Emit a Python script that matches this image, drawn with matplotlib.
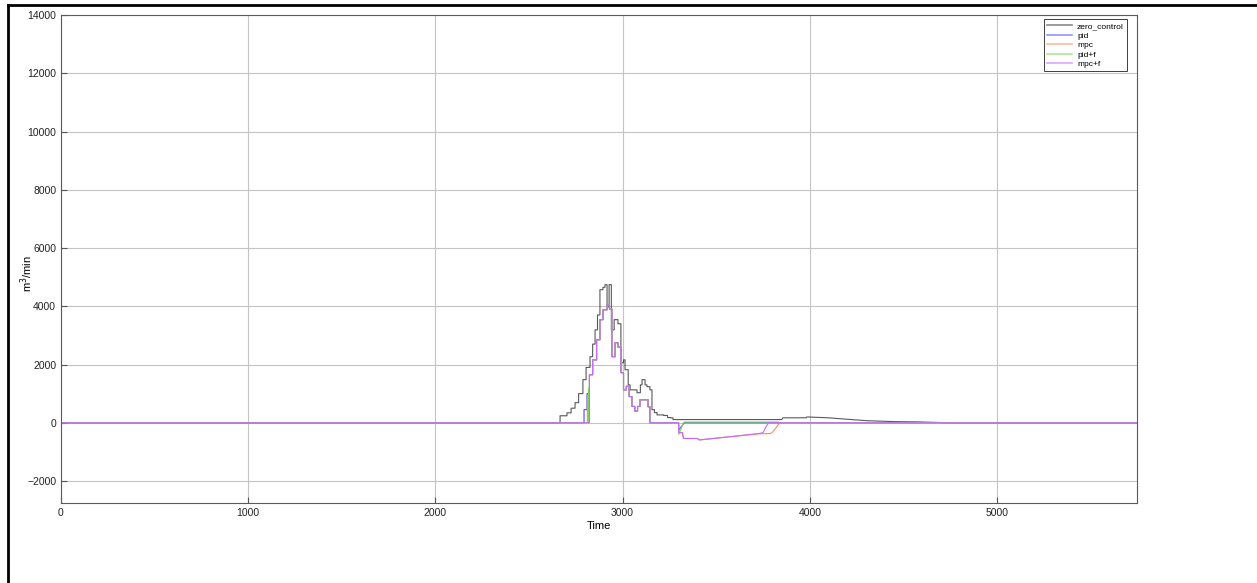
import matplotlib
matplotlib.use("Agg")
import matplotlib.pyplot as plt
from matplotlib.lines import Line2D

plt.rcParams['font.family'] = ['Liberation Sans', 'DejaVu Sans']

# ---- data ----
# uncontrolled flow: stepped rise/fall, then a slow tail
t_zero_steps = [0, 2666, 2703, 2725, 2746, 2765, 2788, 2805, 2826, 2840, 2853, 2866, 2879,
                2895, 2906, 2917, 2928, 2940, 2955, 2975, 2991, 3005, 3013, 3030, 3040,
                3077, 3095, 3104, 3120, 3130, 3146, 3157, 3170, 3184, 3220, 3240, 3253, 3269]
v_zero_steps = [0, 240, 340, 500, 690, 1000, 1480, 1900, 2270, 2700, 3190, 3700, 4570,
                4650, 4740, 3980, 4740, 3190, 3540, 3400, 2060, 2160, 1820, 1300, 1130,
                1030, 1300, 1480, 1300, 1240, 1130, 450, 350, 270, 250, 180, 170, 110]
t_zero_tail = [3850, 3857, 3980, 3985, 4100, 4200, 4306, 4450, 4573, 4749, 5748]
v_zero_tail = [110, 170, 170, 200, 170, 120, 70, 40, 30, 0, 0]

# shared stepped peak of the controlled runs
t_peak = [2823, 2840, 2861, 2879, 2895, 2917, 2930, 2943, 2960, 2975, 2991, 3005,
          3020, 3035, 3050, 3065, 3080, 3093, 3120, 3136, 3146]
v_peak = [1650, 2160, 2850, 3540, 3880, 4050, 3900, 2270, 2750, 2600, 1720, 1130,
          1250, 900, 560, 400, 560, 790, 790, 550, 0]

# run-specific stepped start
t_pid_start, v_pid_start = [0, 2794, 2810], [0, 450, 1000]
t_mpc_start, v_mpc_start = [0, 2812], [0, 900]
t_pf_start, v_pf_start = [0, 2818], [0, 1200]
t_mf_start, v_mf_start = [0, 2820], [0, 0]

# run-specific tails (piecewise linear)
t_pid_tail = [3299, 3300, 3330, 5748]
v_pid_tail = [0, -250, 0, 0]
t_mpc_tail = [3299, 3300, 3320, 3325, 3400, 3410, 3720, 3790, 3800, 3840, 5748]
v_mpc_tail = [0, -340, -340, -540, -540, -590, -380, -370, -330, 0, 0]
t_pf_tail = [3299, 3300, 3325, 3330, 3835, 3840, 5748]
v_pf_tail = [0, -400, 0, 25, 25, 0, 0]
t_mf_tail = [3299, 3300, 3320, 3325, 3400, 3410, 3720, 3750, 3765, 3780, 5748]
v_mf_tail = [0, -340, -340, -540, -540, -590, -380, -340, -150, 0, 0]


def stairs(t, v):
    xs, ys = [t[0]], [v[0]]
    for i in range(1, len(t)):
        xs += [t[i], t[i]]
        ys += [v[i - 1], v[i]]
    return xs, ys


def build(t_start, v_start, t_tail, v_tail):
    xs, ys = stairs(t_start + t_peak, v_start + v_peak)
    return xs + t_tail, ys + v_tail


zx, zy = stairs(t_zero_steps, v_zero_steps)
zx, zy = zx + t_zero_tail, zy + v_zero_tail

series = [
    ('pid', build(t_pid_start, v_pid_start, t_pid_tail, v_pid_tail), '#4a4aff'),
    ('mpc', build(t_mpc_start, v_mpc_start, t_mpc_tail, v_mpc_tail), '#ff8a5c'),
    ('pid+f', build(t_pf_start, v_pf_start, t_pf_tail, v_pf_tail), '#7fd94a'),
    ('mpc+f', build(t_mf_start, v_mf_start, t_mf_tail, v_mf_tail), '#c46bff'),
]

fig = plt.figure(figsize=(12.57, 5.83), dpi=100)
ax = fig.add_axes([61 / 1257, 80 / 583, 1076 / 1257, 488 / 583])

ax.plot(zx, zy, color='#3c3c3c', lw=0.8, alpha=0.85, label='zero_control')
for name, (x, y), c in series:
    ax.plot(x, y, color=c, lw=0.8, label=name)

ax.set_xlim(0, 5748)
ax.set_ylim(-2755, 14000)
ax.set_xticks(range(0, 6000, 1000))
ax.set_yticks(range(-2000, 16000, 2000))
ax.grid(True, color='#c4c4c4', lw=0.8)
ax.set_axisbelow(True)
ax.tick_params(direction='in', labelsize=7.5, length=4, color='#555555', labelcolor='#222222')
for s in ax.spines.values():
    s.set_color('#5a5a5a')
    s.set_linewidth(0.8)
ax.set_xlabel('Time', fontsize=8, labelpad=2)
ax.set_ylabel('m$^3$/min', fontsize=8)
ax.yaxis.set_label_coords(-0.024, 0.47)

leg = ax.legend(loc='upper right', bbox_to_anchor=(0.991, 0.992), borderaxespad=0,
                fontsize=6, fancybox=False, framealpha=1, edgecolor='#404040',
                handlelength=3.0, labelspacing=0.2, borderpad=0.4, handletextpad=0.6)
leg.get_frame().set_linewidth(0.7)
for line in leg.get_lines():
    line.set_linewidth(1.2)
    line.set_alpha(0.6)

# screenshot frame
fig.add_artist(Line2D([8 / 1257, 8 / 1257], [0, 1 - 5 / 583], color='black', lw=2))
fig.add_artist(Line2D([8 / 1257, 1], [1 - 5 / 583, 1 - 5 / 583], color='black', lw=2))

fig.savefig('out.png', dpi=100)
